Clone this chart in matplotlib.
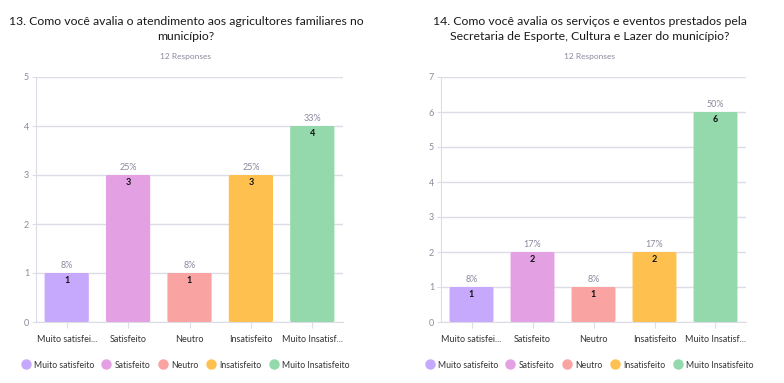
import matplotlib.pyplot as plt
from matplotlib.patches import FancyBboxPatch

plt.rcParams['font.family'] = ['Lato', 'DejaVu Sans']

categories = ["Muito satisfeito", "Satisfeito", "Neutro", "Insatisfeito", "Muito Insatisfeito"]
tick_labels = ["Muito satisfei...", "Satisfeito", "Neutro", "Insatisfeito", "Muito Insatisf..."]
q13_counts = [1, 3, 1, 3, 4]
q14_counts = [1, 2, 1, 2, 6]
q13_pct = ["8%", "25%", "8%", "25%", "33%"]
q14_pct = ["8%", "17%", "8%", "17%", "50%"]
titles = ["13. Como você avalia o atendimento aos agricultores familiares no\nmunicípio?",
          "14. Como você avalia os serviços e eventos prestados pela\nSecretaria de Esporte, Cultura e Lazer do município?"]
colors = ["#c6a8fc", "#e3a1e4", "#faa3a3", "#fec150", "#93d9ab"]

W, H = 784, 383
fig = plt.figure(figsize=(W / 100, H / 100), dpi=100)

grid_c = "#dcdce6"
tick_c = "#8a8a9e"


def draw(x0, x1, ymax, counts, pcts, title, title_x, leg_x):
    ax = fig.add_axes([x0 / W, (H - 322) / H, (x1 - x0) / W, 245 / H])
    xs = range(len(counts))
    for i, (v, p) in enumerate(zip(counts, pcts)):
        ax.add_patch(FancyBboxPatch((i - 0.36, 0), 0.72, v, boxstyle="round,pad=0,rounding_size=0.02",
                                    mutation_aspect=ymax / 3, fc=colors[i], ec="none", zorder=3))
        ax.text(i, v - ymax * 0.012, str(v), ha="center", va="top", fontsize=6.5,
                fontweight="bold", color="#111111", zorder=4)
        ax.text(i, v + ymax * 0.012, p, ha="center", va="bottom", fontsize=6.5,
                color=tick_c, zorder=4)
    ax.set_xlim(-0.5, len(counts) - 0.5)
    ax.set_ylim(0, ymax)
    ax.set_yticks(range(ymax + 1))
    ax.set_xticks(list(xs))
    ax.set_xticklabels(tick_labels, fontsize=6.5, color="#333333")
    ax.tick_params(axis="y", length=3, color=grid_c, labelsize=6.5, labelcolor=tick_c, pad=2)
    ax.tick_params(axis="x", length=4, color=grid_c, pad=5)
    ax.grid(axis="y", color=grid_c, linewidth=1, zorder=0)
    for s in ["top", "right"]:
        ax.spines[s].set_visible(False)
    ax.spines["left"].set_color(grid_c)
    ax.spines["bottom"].set_color(grid_c)
    fig.text(title_x / W, 1 - 29 / H, title, ha="center", va="center", fontsize=8.8,
             color="#1a1a1a", linespacing=1.4)
    fig.text(title_x / W, 1 - 57 / H, "12 Responses", ha="center", va="center",
             fontsize=6, color=tick_c)
    # legend
    handles = [plt.Line2D([], [], marker="o", ls="none", ms=6.5, color=c) for c in colors]
    fig.legend(handles, categories, loc="center", bbox_to_anchor=(leg_x / W, 1 - 365 / H),
               ncol=5, frameon=False, fontsize=6.2, handletextpad=0.4, columnspacing=0.9,
               handlelength=1.1, labelcolor="#333333")


draw(36, 343, 5, q13_counts, q13_pct, titles[0], 186, 185)
draw(441, 746, 7, q14_counts, q14_pct, titles[1], 590, 589)

fig.savefig("out.png", dpi=100)
